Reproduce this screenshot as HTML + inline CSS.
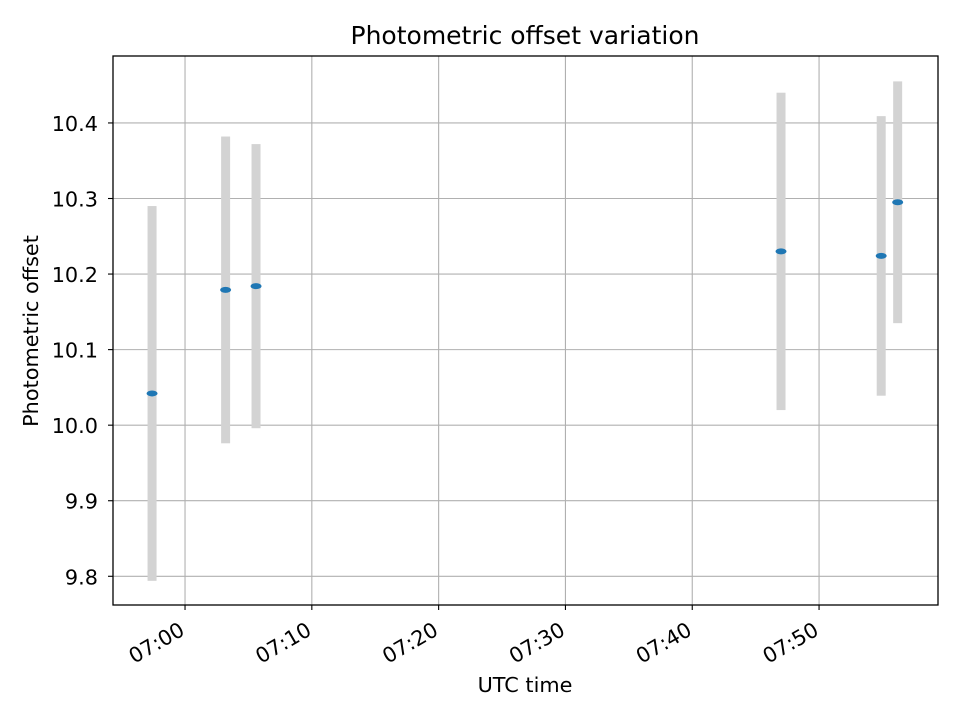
<!DOCTYPE html>
<html><head><meta charset="utf-8"><style>
body{margin:0;background:#fff;}
svg text{font-family:"DejaVu Sans","Liberation Sans",sans-serif;fill:#000;}
</style></head><body>
<svg id="chart" width="960" height="720" xmlns="http://www.w3.org/2000/svg">
<rect width="960" height="720" fill="#fff"/>
<g id="grid"></g>
<g id="bars"></g>
<g id="pts"></g>
<rect x="113" y="56" width="825" height="549" fill="none" stroke="#000" stroke-width="1.3"/>
<g id="ticks"></g>
<text x="525" y="44" font-size="25" text-anchor="middle">Photometric offset variation</text>
<text x="525" y="692" font-size="20.8" text-anchor="middle">UTC time</text>
<text x="38" y="331" font-size="20.8" text-anchor="middle" transform="rotate(-90 38 331)">Photometric offset</text>
</svg>
<script>
// minutes after 07:00
const times=[-2.6,3.2,5.6,47.0,54.9,56.2];
const values=[10.042,10.179,10.184,10.230,10.224,10.295];
const errors=[0.248,0.203,0.188,0.210,0.185,0.160];
const xTicks=[0,10,20,30,40,50];
const xTickLabels=["07:00","07:10","07:20","07:30","07:40","07:50"];
const yTicks=[9.8,9.9,10.0,10.1,10.2,10.3,10.4];
const yTickLabels=["9.8","9.9","10.0","10.1","10.2","10.3","10.4"];
const L=113,R=938,T=56,B=605,xMin=-5.68,xMax=59.38,yMin=9.762,yMax=10.4886;
const NS="http://www.w3.org/2000/svg";
const xs=v=>L+(v-xMin)/(xMax-xMin)*(R-L);
const ys=v=>B-(v-yMin)/(yMax-yMin)*(B-T);
function mk(tag,attrs,parent){const e=document.createElementNS(NS,tag);for(const k in attrs)e.setAttribute(k,attrs[k]);document.getElementById(parent).appendChild(e);return e;}
xTicks.forEach((t,i)=>{const x=xs(t);
 let g=mk('line',{x1:x,x2:x,y1:T,y2:B,stroke:'#b0b0b0','stroke-width':1.1},'grid');
 
 let k=mk('line',{x1:x,x2:x,y1:B,y2:B+5,stroke:'#000','stroke-width':1.1},'ticks');
 
 let tx=mk('text',{x:x+1,y:B+29,'font-size':20.8,'text-anchor':'end',transform:`rotate(-30 ${x+1} ${B+29})`},'ticks');
 tx.textContent=xTickLabels[i];
});
yTicks.forEach((t,i)=>{const y=ys(t);
 let g=mk('line',{x1:L,x2:R,y1:y,y2:y,stroke:'#b0b0b0','stroke-width':1.1},'grid');
 
 let k=mk('line',{x1:L-5,x2:L,y1:y,y2:y,stroke:'#000','stroke-width':1.1},'ticks');
 
 let tx=mk('text',{x:L-15,y:y+8,'font-size':20.8,'text-anchor':'end'},'ticks');
 tx.textContent=yTickLabels[i];
});
times.forEach((t,i)=>{const x=xs(t);const y1=ys(values[i]+errors[i]),y2=ys(values[i]-errors[i]);
 let b=mk('rect',{x:x-4.5,y:y1,width:9,height:y2-y1,fill:'#d3d3d3'},'bars');
 
 let p=mk('ellipse',{cx:x,cy:ys(values[i]),rx:5.5,ry:3,fill:'#1f77b4'},'pts');
 
});
</script>
</body></html>
